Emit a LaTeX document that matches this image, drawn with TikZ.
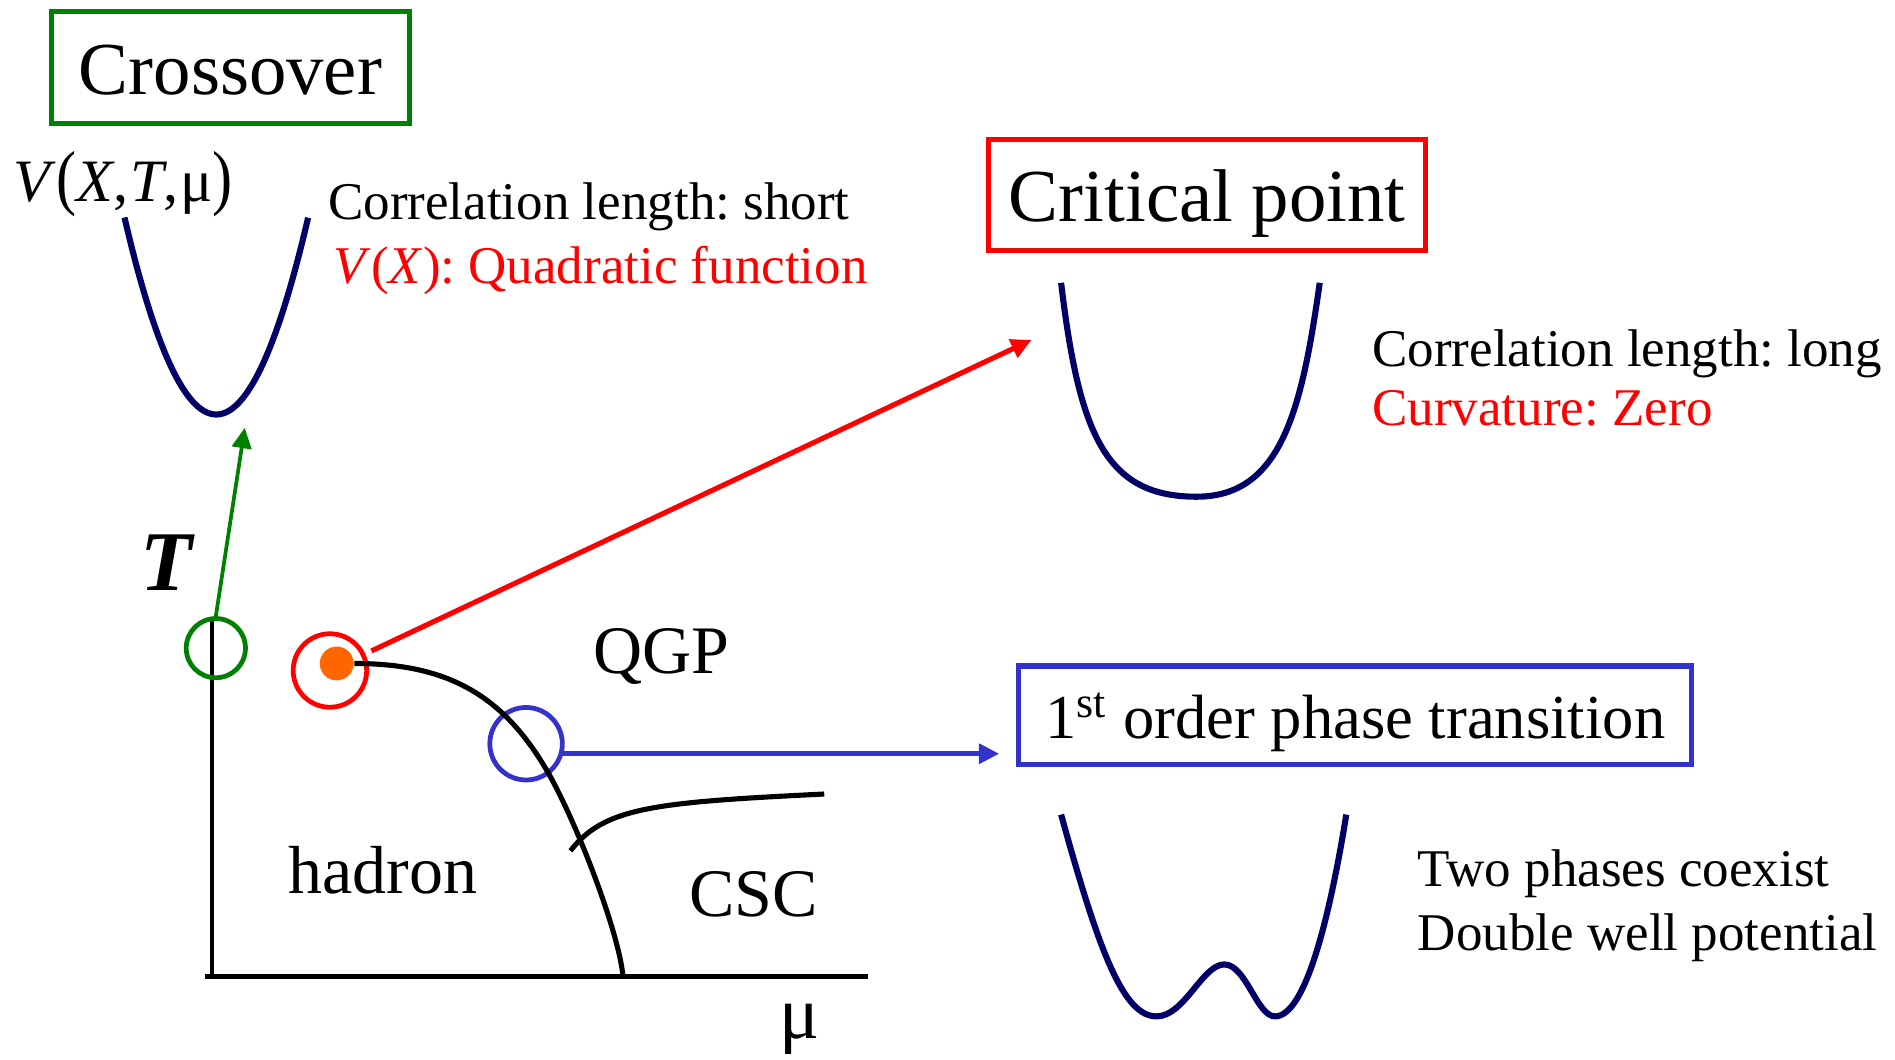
\documentclass[tikz,border=0pt]{standalone}
\usepackage{fontspec}
\setmainfont{Liberation Serif}
\usepackage{tikz}
\usetikzlibrary{arrows.meta}
\usepackage{xcolor}
\usepackage{graphicx}
\definecolor{cogreen}{RGB}{0,128,0}
\definecolor{cpred}{RGB}{255,0,0}
\definecolor{foblue}{RGB}{51,51,204}
\definecolor{potnavy}{RGB}{0,0,102}
\definecolor{dotorange}{RGB}{255,102,0}
\frenchspacing

\begin{document}
\begin{tikzpicture}[x=0.0125cm,y=-0.0125cm,>={Triangle[length=2.1mm,width=2mm]},
  titlebox/.style={line width=1.5pt,inner sep=0pt,anchor=base,font=\fontsize{22}{26}\selectfont},
  ring/.style={circle,draw,line width=1.4pt,inner sep=0pt},
  pot/.style={potnavy,line width=1.8pt},
  phase/.style={line width=1.5pt},
  body/.style={anchor=base west,inner sep=0pt,font=\fontsize{15.6}{18}\selectfont},
  region/.style={anchor=base,inner sep=0pt,font=\fontsize{20}{24}\selectfont}]
\useasboundingbox (0,0) rectangle (1568,877);
\node[titlebox,draw=cogreen,minimum width=3.7cm,text height=0.8525cm,text depth=0.3025cm] (co) at (190.7,78) {Crossover};
\node[titlebox,draw=cpred,minimum width=4.52cm,text height=0.854cm,text depth=0.294cm] (cp) at (998.9,183.4) {Critical point};
\node[titlebox,draw=foblue,font=\fontsize{18.4}{22}\selectfont,minimum width=6.96cm,text height=0.749cm,text depth=0.266cm] (fo) at (1121.5,611) {1\textsuperscript{st} order phase transition};
\node[anchor=base west,inner sep=0pt,font=\fontsize{17.7}{20}\selectfont] (vx) at (11,166.9) {\textit{V}\scalebox{1}[1.2]{(}\textit{X},\hspace{0.5pt}\textit{T},\hspace{0.5pt}μ\scalebox{1}[1.2]{)}};
\node[body] (colshort) at (271,182) {Correlation length: short};
\node[body,cpred] (quad) at (275.6,234.5) {\textit{V}(\textit{X}): Quadratic function};
\node[body] (collong) at (1135,303.4) {Correlation length: long};
\node[body,cpred] (curv) at (1135,351.7) {Curvature: Zero};
\node[body] (coex) at (1172.6,733.7) {Two phases coexist};
\node[body] (dwell) at (1172.6,786.7) {Double well potential};
\node[region] (qgp) at (547.5,557) {QGP};
\node[region] (had) at (317,739) {hadron};
\node[region] (csc) at (623.5,758) {CSC};
\node[anchor=base,inner sep=0pt,font=\fontsize{25}{30}\selectfont\bfseries\itshape] (tlab) at (137.5,489) {T};
\node[anchor=base,inner sep=0pt,font=\fontsize{22}{26}\selectfont] (mulab) at (661.5,859) {μ};
\draw[line width=1.35pt] (175.5,513) -- (175.5,808);
\draw[line width=1.5pt] (170,808) -- (718,808);
\node[ring,cogreen,minimum size=0.6125cm] (gr) at (178.6,536.3) {};
\node[ring,cpred,minimum size=0.76cm] (rr) at (273,554.8) {};
\node[ring,foblue,minimum size=0.75cm] (br) at (435.3,615.4) {};
\node[circle,fill=dotorange,inner sep=0pt,minimum size=0.35cm] (cep) at (278.6,549) {};
\draw[phase] (cep.east) .. controls (370,549) and (415,575) .. (451,635) .. controls (475,675) and (512,770) .. (515.5,808);
\draw[phase] (472,704) .. controls (500,668) and (540,664) .. (682,657);
\coordinate (cotip) at (202.5,354);
\coordinate (cptip) at (853.5,281.3);
\draw[->,cogreen,line width=1.1pt] (gr.north) -- (cotip);
\draw[->,cpred,line width=1.5pt,shorten <=2pt] (rr) -- (cptip);
\draw[->,foblue,line width=1.5pt,shorten >=5pt] (br.-15) -- (br.-15 -| fo.west);
\draw[pot] plot[domain=-1:1,samples=41,smooth] ({179+76*\x},{343-163*\x*\x});
\draw[pot] (878,234) .. controls (893,360) and (915,411) .. (990,411) .. controls (1060,411) and (1077,340) .. (1092,234);
\draw[pot] (878,674) .. controls (910,790) and (930,841) .. (957,841) .. controls (980,841) and (995,798) .. (1013,798) .. controls (1031,798) and (1040,841) .. (1055,841) .. controls (1080,841) and (1100,760) .. (1114,674);
\end{tikzpicture}
\end{document}
